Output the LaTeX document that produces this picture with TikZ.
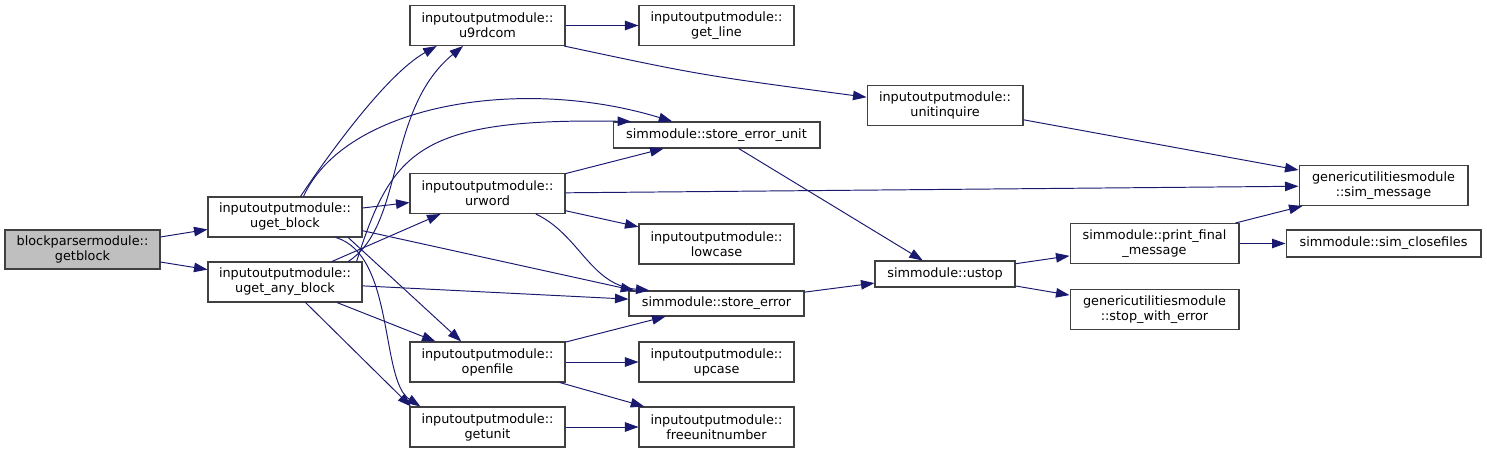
\documentclass[tikz,border=0pt]{standalone}
\usepackage{fontspec}
\setmainfont{DejaVu Sans}
\usetikzlibrary{arrows.meta}
\definecolor{edgeblue}{HTML}{191970}
\definecolor{boxgray}{HTML}{404040}
\definecolor{rootgray}{HTML}{BFBFBF}

\begin{document}
\begin{tikzpicture}[
  x=0.02cm, y=-0.02cm,
  func/.style={draw=boxgray, fill=white, line width=0.6pt, inner sep=0pt, align=center, minimum height=0.8cm, font=\fontsize{7.3}{8.5}\selectfont},
  arrow/.style={-{Triangle[length=0.27cm, width=0.19cm]}, edgeblue, line width=0.55pt}
]
  \useasboundingbox (0,0) rectangle (1487,453);

  % Caller
  \node[func, fill=rootgray, minimum width=3.1cm, minimum height=0.78cm] (getblock) at (82.5,249.5) {blockparsermodule::\\getblock};

  % First level
  \node[func, minimum width=3.08cm] (ugetblock) at (285,217) {inputoutputmodule::\\uget\_block};
  \node[func, minimum width=3.08cm] (ugetany) at (285,282) {inputoutputmodule::\\uget\_any\_block};

  % Second level
  \node[func, minimum width=3.1cm] (u9rdcom) at (487.5,25.5) {inputoutputmodule::\\u9rdcom};
  \node[func, minimum width=3.1cm] (urword) at (487.5,193.5) {inputoutputmodule::\\urword};
  \node[func, minimum width=3.1cm] (openfile) at (487.5,362) {inputoutputmodule::\\openfile};
  \node[func, minimum width=3.1cm] (getunit) at (487.5,427) {inputoutputmodule::\\getunit};

  % Third level
  \node[func, minimum width=3.1cm] (getline) at (716.5,25.5) {inputoutputmodule::\\get\_line};
  \node[func, minimum width=4.14cm, minimum height=0.52cm] (storeunit) at (716.5,135) {simmodule::store\_error\_unit};
  \node[func, minimum width=3.1cm] (lowcase) at (716.5,244) {inputoutputmodule::\\lowcase};
  \node[func, minimum width=3.5cm, minimum height=0.5cm] (storeerr) at (716.5,303.5) {simmodule::store\_error};
  \node[func, minimum width=3.1cm] (upcase) at (716.5,362) {inputoutputmodule::\\upcase};
  \node[func, minimum width=3.1cm] (freeunit) at (716.5,427) {inputoutputmodule::\\freeunitnumber};

  % Fourth level
  \node[func, minimum width=3.12cm] (unitinq) at (945,105.5) {inputoutputmodule::\\unitinquire};
  \node[func, minimum width=2.8cm, minimum height=0.52cm] (ustop) at (945,274) {simmodule::ustop};

  % Right side
  \node[func, minimum width=3.38cm] (printfinal) at (1154.5,243.5) {simmodule::print\_final\\\_message};
  \node[func, minimum width=3.38cm] (stopwitherr) at (1154.5,309.5) {genericutilitiesmodule\\::stop\_with\_error};
  \node[func, minimum width=3.38cm] (simmsg) at (1383.5,185.5) {genericutilitiesmodule\\::sim\_message};
  \node[func, minimum width=3.9cm, minimum height=0.54cm] (closefiles) at (1383.5,243.5) {simmodule::sim\_closefiles};

  % Calls from getblock
  \draw[arrow] (getblock) -- (ugetblock);
  \draw[arrow] (getblock) -- (ugetany);

  % Calls from uget_block
  \draw[arrow] (ugetblock.53) .. controls (325,160) and (385,75) .. (u9rdcom.202);
  \draw[arrow] (ugetblock.48) .. controls (345,105) and (520,75) .. (storeunit.163);
  \draw[arrow] (ugetblock) -- (urword);
  \draw[arrow] (ugetblock.-10) -- (storeerr.171);
  \draw[arrow] (ugetblock.-18) -- (openfile.142);
  \draw[arrow] (ugetblock.-22) .. controls (395,255) and (380,380) .. (getunit.163);

  % Calls from uget_any_block
  \draw[arrow] (ugetany.18) .. controls (405,225) and (385,110) .. (u9rdcom.220);
  \draw[arrow] (ugetany.16) .. controls (392,150) and (420,118) .. (storeunit.171);
  \draw[arrow] (ugetany) -- (urword);
  \draw[arrow] (ugetany) -- (storeerr);
  \draw[arrow] (ugetany) -- (openfile);
  \draw[arrow] (ugetany.-45) -- (getunit.165);

  % Calls from u9rdcom and urword
  \draw[arrow] (u9rdcom) -- (getline);
  \draw[arrow] (u9rdcom.-15) .. controls (700,75) .. (unitinq.174);
  \draw[arrow] (urword) -- (storeunit);
  \draw[arrow] (urword) -- (simmsg);
  \draw[arrow] (urword) -- (lowcase);
  \draw[arrow] (urword.-23) .. controls (580,235) and (590,285) .. (storeerr.169);

  % Remaining calls
  \draw[arrow] (openfile) -- (storeerr);
  \draw[arrow] (openfile) -- (upcase);
  \draw[arrow] (openfile) -- (freeunit);
  \draw[arrow] (getunit) -- (freeunit);
  \draw[arrow] (unitinq) -- (simmsg);
  \draw[arrow] (storeunit) -- (ustop);
  \draw[arrow] (storeerr) -- (ustop);
  \draw[arrow] (ustop) -- (printfinal);
  \draw[arrow] (ustop) -- (stopwitherr);
  \draw[arrow] (printfinal) -- (simmsg);
  \draw[arrow] (printfinal) -- (closefiles);
\end{tikzpicture}
\end{document}
